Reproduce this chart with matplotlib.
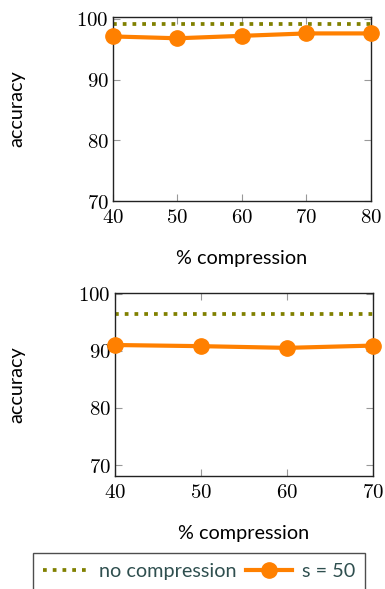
import numpy as np
import matplotlib.pyplot as plt
import matplotlib as mpl

mpl.rcParams['mathtext.fontset'] = 'cm'
mpl.rcParams['font.family'] = 'serif'
mpl.rcParams['font.serif'] = ['DejaVu Serif']

# top panel
x_top = [40, 50, 60, 70, 80]
acc_top = [97.1, 96.8, 97.2, 97.6, 97.6]
nocomp_top = 99.2

# bottom panel
x_bot = [40, 50, 60, 70]
acc_bot = [91.0, 90.8, 90.5, 90.9]
nocomp_bot = 96.4

orange = '#ff8000'
olive = '#808000'
label_font = 'Lato'
label_size = 14.3

fig = plt.figure(figsize=(3.85, 5.89), dpi=100)
ax1 = fig.add_axes([0.2935, 0.6587, 0.670, 0.3124])
ax2 = fig.add_axes([0.2987, 0.1919, 0.670, 0.3107])

def style(ax, xs, ylim, yticks, xlab_y, ylab_x):
    ax.set_xlim(xs[0], xs[-1])
    ax.set_ylim(*ylim)
    ax.set_xticks(xs)
    ax.set_yticks(yticks)
    ax.set_xticklabels([r'$%d$' % v for v in xs])
    ax.set_yticklabels([r'$%d$' % v for v in yticks])
    ax.tick_params(direction='in', top=True, right=True, length=5,
                   color='#999999', labelsize=15)
    ax.tick_params(axis='x', pad=5)
    ax.tick_params(axis='y', pad=3)
    for s in ax.spines.values():
        s.set_linewidth(1.0)
        s.set_color('#222222')
    ax.set_xlabel('% compression', fontfamily=label_font, fontsize=label_size)
    ax.set_ylabel('accuracy', fontfamily=label_font, fontsize=label_size)
    ax.xaxis.set_label_coords(0.5, xlab_y)
    ax.yaxis.set_label_coords(ylab_x, 0.5)

for ax, xs, acc, nc in [(ax1, x_top, acc_top, nocomp_top), (ax2, x_bot, acc_bot, nocomp_bot)]:
    ln1, = ax.plot([xs[0], xs[-1]], [nc, nc], color=olive, lw=2.7,
                   linestyle=(0, (1, 1.6)), label='no compression')
    ln2, = ax.plot(xs, acc, color=orange, lw=3.0, marker='o', markersize=11,
                   clip_on=False, zorder=3, label='s = 50')

style(ax1, x_top, (70, 100.3), [70, 80, 90, 100], -0.266, -0.341)
style(ax2, x_bot, (68.1, 100.1), [70, 80, 90, 100], -0.268, -0.349)

leg = fig.legend(handles=[ln1, ln2], loc='upper left', bbox_to_anchor=(0.0857, 0.0611),
                 borderaxespad=0, ncol=2, frameon=True, fancybox=False,
                 handlelength=2.3, columnspacing=0.5, handletextpad=0.5,
                 borderpad=0.5, prop={'family': label_font, 'size': label_size},
                 labelcolor='#2f4f4f')
leg.get_frame().set_edgecolor('#222222')
leg.get_frame().set_linewidth(1.0)

fig.savefig('out.png', dpi=100)
